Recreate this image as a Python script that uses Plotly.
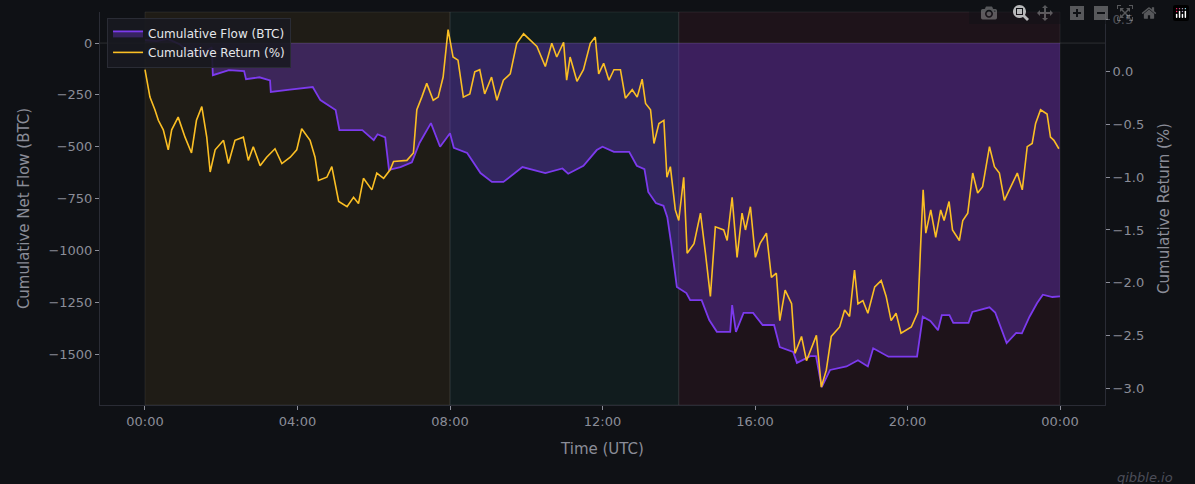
import pandas as pd
import plotly.graph_objects as go

# hours since midnight UTC
flow_hours = [0, 0.3, 0.6, 0.9, 1.2, 1.5, 1.75, 1.78, 2.2, 2.6, 2.65, 3.0, 3.28, 3.3, 3.8, 4.4, 4.6, 5.0, 5.1, 5.7,
              6.0, 6.1, 6.3, 6.4, 6.7, 7.0, 7.2, 7.5, 7.74, 8.0, 8.1, 8.45, 8.8, 9.1, 9.4, 9.9, 10.5, 10.95, 11.1,
              11.5, 11.85, 12.0, 12.3, 12.7, 12.9, 13.1, 13.2, 13.4, 13.6, 13.7, 13.8, 13.95, 14.2, 14.3, 14.6,
              14.8, 15.0, 15.35, 15.4, 15.5, 15.7, 15.95, 16.2, 16.5, 16.65, 17.0, 17.1, 17.45, 17.6, 17.75,
              17.97, 18.4, 18.7, 18.96, 19.1, 19.5, 20.25, 20.4, 20.6, 20.8, 20.9, 21.1, 21.2, 21.6, 21.7,
              22.15, 22.3, 22.6, 22.85, 23.0, 23.2, 23.4, 23.55, 23.8, 24.0]
flow_btc = [15, 10, 20, -5, -50, -55, -20, -155, -130, -135, -174, -165, -180, -236, -225, -212, -275, -323, -420, -420,
            -468, -440, -455, -612, -598, -575, -482, -386, -500, -435, -505, -530, -627, -670, -670, -598, -627, -605, -630,
            -592, -516, -500, -525, -525, -592, -608, -718, -772, -785, -840, -965, -1177, -1206, -1240, -1240,
            -1336, -1393, -1393, -1264, -1393, -1302, -1302, -1360, -1360, -1467, -1490, -1543, -1510, -1510, -1660,
            -1577, -1560, -1530, -1560, -1472, -1513, -1513, -1320, -1340, -1385, -1312, -1312, -1350, -1350, -1297,
            -1275, -1300, -1447, -1398, -1400, -1320, -1254, -1214, -1225, -1222]

ret_hours = [0, 0.13, 0.26, 0.35, 0.48, 0.61, 0.7, 0.87, 1.05, 1.22, 1.35, 1.49, 1.62, 1.71, 1.84, 2.06, 2.19, 2.36,
             2.58, 2.71, 2.84, 3.02, 3.19, 3.41, 3.59, 3.81, 3.98, 4.11, 4.33, 4.46, 4.55, 4.77, 4.9, 5.08, 5.3,
             5.47, 5.6, 5.73, 5.95, 6.08, 6.26, 6.43, 6.52, 6.87, 7.04, 7.13, 7.26, 7.39, 7.56, 7.69, 7.82, 7.95,
             8.08, 8.21, 8.35, 8.52, 8.65, 8.78, 8.91, 9.09, 9.23, 9.4, 9.58, 9.75, 9.93, 10.1, 10.28, 10.5,
             10.67, 10.8, 10.98, 11.06, 11.15, 11.33, 11.5, 11.68, 11.81, 11.9, 12.03, 12.17, 12.3, 12.47, 12.6,
             12.78, 12.91, 13.04, 13.13, 13.26, 13.35, 13.48, 13.61, 13.69, 13.78, 13.91, 14.0, 14.13, 14.22,
             14.4, 14.57, 14.7, 14.83, 14.96, 15.18, 15.27, 15.4, 15.53, 15.66, 15.75, 15.88, 16.01, 16.13, 16.3,
             16.43, 16.56, 16.65, 16.79, 16.96, 17.05, 17.22, 17.35, 17.48, 17.61, 17.74, 17.87, 18.0, 18.22,
             18.35, 18.48, 18.61, 18.7, 18.83, 18.96, 19.14, 19.31, 19.44, 19.57, 19.7, 19.83, 20.1, 20.27,
             20.35, 20.41, 20.48, 20.61, 20.74, 20.87, 20.96, 21.09, 21.18, 21.36, 21.45, 21.58, 21.71, 21.84,
             21.97, 22.15, 22.28, 22.41, 22.54, 22.71, 22.88, 23.01, 23.14, 23.27, 23.36, 23.49, 23.66, 23.75,
             23.84, 23.97]
ret_pct = [0.02, -0.24, -0.36, -0.46, -0.55, -0.74, -0.55, -0.43, -0.62, -0.77, -0.46, -0.33, -0.62, -0.95, -0.74,
           -0.65, -0.87, -0.65, -0.62, -0.84, -0.71, -0.89, -0.81, -0.73, -0.87, -0.81, -0.74, -0.54, -0.65, -0.81,
           -1.03, -1.0, -0.9, -1.23, -1.28, -1.19, -1.25, -1.01, -1.12, -0.96, -1.01, -0.93, -0.85, -0.84, -0.77,
           -0.36, -0.24, -0.11, -0.27, -0.24, -0.05, 0.4, 0.14, 0.11, -0.24, -0.21, 0.0, 0.02, -0.21, -0.05, -0.27,
           -0.08, -0.02, 0.27, 0.36, 0.3, 0.24, 0.05, 0.27, 0.14, 0.28, -0.08, 0.14, -0.09, 0.02, 0.27, 0.33, -0.02,
           0.08, -0.08, 0.02, 0.02, -0.25, -0.17, -0.24, -0.07, -0.3, -0.36, -0.68, -0.49, -0.46, -1.0, -0.9, -1.31,
           -1.41, -1.0, -1.72, -1.63, -1.34, -1.72, -2.13, -1.47, -1.5, -1.6, -1.19, -1.76, -1.34, -1.5, -1.28, -1.76,
           -1.63, -1.53, -1.95, -1.91, -2.36, -2.07, -2.2, -2.67, -2.51, -2.74, -2.61, -2.5, -2.99, -2.83, -2.51,
           -2.42, -2.26, -2.32, -1.88, -2.2, -2.17, -2.29, -2.04, -1.98, -2.13, -2.36, -2.29, -2.48, -2.42, -2.28,
           -1.6, -1.12, -1.53, -1.31, -1.57, -1.31, -1.41, -1.23, -1.5, -1.6, -1.41, -1.34, -0.96, -1.15, -1.09,
           -0.71, -0.9, -0.96, -1.22, -1.09, -0.96, -1.12, -0.71, -0.68, -0.49, -0.36, -0.4, -0.62, -0.65, -0.73]

sessions = [(0, 8, "rgba(251,191,36,0.07)"), (8, 14, "rgba(45,212,191,0.06)"), (14, 24, "rgba(244,63,94,0.07)")]

day = pd.Timestamp("2024-01-01")
def to_time(hours):
    return [day + pd.Timedelta(hours=h) for h in hours]

BG = "#0f1115"
GRID_TXT = "#8b8d98"

fig = go.Figure()
fig.add_trace(go.Scatter(x=to_time(flow_hours), y=flow_btc, name="Cumulative Flow (BTC)", mode="lines",
                         line=dict(color="#7c3aed", width=1.8), fill="tozeroy",
                         fillcolor="rgba(124,58,237,0.32)"))
fig.add_trace(go.Scatter(x=to_time(ret_hours), y=ret_pct, name="Cumulative Return (%)", mode="lines",
                         line=dict(color="#fbbf24", width=1.6), yaxis="y2"))

for start, end, col in sessions:
    fig.add_vrect(x0=day + pd.Timedelta(hours=start), x1=day + pd.Timedelta(hours=end),
                  fillcolor=col, line_width=1, line_color="rgba(255,255,255,0.07)", layer="below")
fig.add_hline(y=0, line_color="rgba(255,255,255,0.12)", line_width=1)

fig.update_layout(
    width=1195, height=484, paper_bgcolor=BG, plot_bgcolor=BG,
    margin=dict(l=100, r=90, t=12, b=79),
    font=dict(family="DejaVu Sans", color=GRID_TXT, size=13),
    xaxis=dict(title=dict(text="Time (UTC)", font=dict(size=15)), tickformat="%H:%M", dtick=4 * 3600000,
               range=[day - pd.Timedelta(hours=1.18), day + pd.Timedelta(hours=25.18)],
               showgrid=False, zeroline=False, ticks="outside", tickcolor=GRID_TXT, ticklen=4,
               showline=True, linecolor="#2a2c35"),
    yaxis=dict(title=dict(text="Cumulative Net Flow (BTC)", font=dict(size=15)), range=[-1746, 150],
               dtick=250, showgrid=False, zeroline=False, ticks="outside", tickcolor=GRID_TXT, ticklen=4,
               showline=True, linecolor="#2a2c35"),
    yaxis2=dict(title=dict(text="Cumulative Return (%)", font=dict(size=15)), overlaying="y", side="right",
                range=[-3.16, 0.567], dtick=0.5, tickformat=".1f", showgrid=False, zeroline=False,
                ticks="outside", tickcolor=GRID_TXT, ticklen=4, showline=True, linecolor="#2a2c35"),
    legend=dict(x=0.007, y=0.985, xanchor="left", yanchor="top", bgcolor="rgba(24,25,32,0.9)",
                bordercolor="#2a2c35", borderwidth=1, font=dict(color="#e5e7eb", size=12)),
    showlegend=True,
)
fig.add_annotation(text="<i>qibble.io</i>", xref="paper", yref="paper", x=1.07, y=-0.16,
                   xanchor="right", yanchor="top", showarrow=False, font=dict(color="#4b4d58", size=13))

fig.write_html("out.html", post_script="document.body.style.margin='0';document.body.style.background='#0f1115';")
